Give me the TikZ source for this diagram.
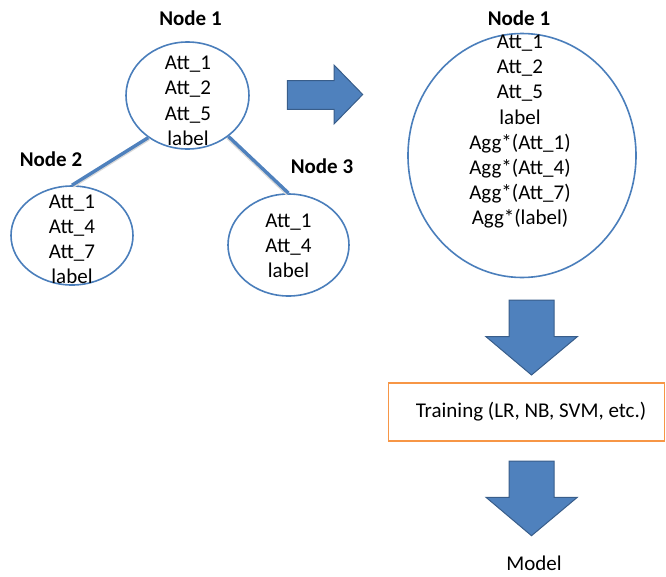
\documentclass[tikz,border=0pt]{standalone}
\usepackage{fontspec}
\setmainfont{Carlito}
\usetikzlibrary{shapes.geometric}
\definecolor{nodeblue}{RGB}{74,126,187}
\definecolor{arrowfill}{RGB}{79,129,189}
\definecolor{arrowedge}{RGB}{56,93,138}
\definecolor{boxorange}{RGB}{247,150,70}
\tikzset{
  x=1pt, y=-1pt,
  treenode/.style={draw=nodeblue, line width=1.6pt, ellipse, inner sep=0pt},
  attrtext/.style={align=center, inner sep=0pt, font=\fontsize{21}{25.2}\selectfont},
  nodetitle/.style={inner sep=0pt, font=\fontsize{21}{24}\selectfont\bfseries},
  edge/.style={draw=arrowfill, line width=3.4pt},
  edgeshadow/.style={draw=black!15, line width=3pt},
  blockarrow/.style={fill=arrowfill, draw=arrowedge, line width=1pt, line join=miter},
  trainbox/.style={draw=boxorange, line width=1.8pt, minimum width=276pt, minimum height=58pt, inner sep=0pt}
}
\begin{document}
\begin{tikzpicture}
\useasboundingbox (0,0) rectangle (666,576);

% tree nodes
\node[treenode, minimum width=123pt, minimum height=107pt] (n1) at (187.5,95.5) {};
\node[treenode, minimum width=122pt, minimum height=99pt] (n2) at (72,235.5) {};
\node[treenode, minimum width=121pt, minimum height=102pt] (n3) at (288.5,245) {};

% connectors
\draw[edgeshadow] ([shift={(1,1.2)}]n1.227) -- ([shift={(1,1.2)}]n2.north);
\draw[edgeshadow] ([shift={(-1,1.2)}]n1.315) -- ([shift={(-1,1.2)}]n3.north);
\draw[edge] (n1.227) -- (n2.north);
\draw[edge] (n1.315) -- (n3.north);

% texts
\node[attrtext] (t1) at (188,100.8) {Att\_1\\Att\_2\\Att\_5\\label};
\node[attrtext] (t2) at (72,239.5) {Att\_1\\Att\_4\\Att\_7\\label};
\node[attrtext] (t3) at (288.5,246) {Att\_1\\Att\_4\\label};

\node[nodetitle] (l1) at (190.5,18.3) {Node 1};
\node[nodetitle] (l2) at (51,159.3) {Node 2};
\node[nodetitle] (l3) at (322,166.7) {Node 3};

% right arrow
\draw[blockarrow] (287.3,80.7) -- (334,80.7) -- (334,65) -- (362.7,94.5) -- (334,124) -- (334,109.3) -- (287.3,109.3) -- cycle;

% aggregated node
\node[treenode, minimum width=228pt, minimum height=244pt] (agg) at (522,155.5) {};
\node[nodetitle] (lagg) at (519,18.3) {Node 1};
\node[attrtext] (tagg) at (520,131.8) {Att\_1\\Att\_2\\Att\_5\\label\\Agg*(Att\_1)\\Agg*(Att\_4)\\Agg*(Att\_7)\\Agg*(label)};

% down arrow 1
\draw[blockarrow] (509,300) -- (554,300) -- (554,336.7) -- (577.3,336.7) -- (531.5,375) -- (486,336.7) -- (509,336.7) -- cycle;

% training box
\node[trainbox] (train) at (526.4,411.8) {};
\node[attrtext] (traintext) at (531,411.5) {Training (LR, NB, SVM, etc.)};

% down arrow 2
\draw[blockarrow] (509,461) -- (554,461) -- (554,497.3) -- (577.3,497.3) -- (531.5,535.7) -- (486,497.3) -- (509,497.3) -- cycle;

\node[attrtext] (model) at (534,563) {Model};
\end{tikzpicture}
\end{document}
